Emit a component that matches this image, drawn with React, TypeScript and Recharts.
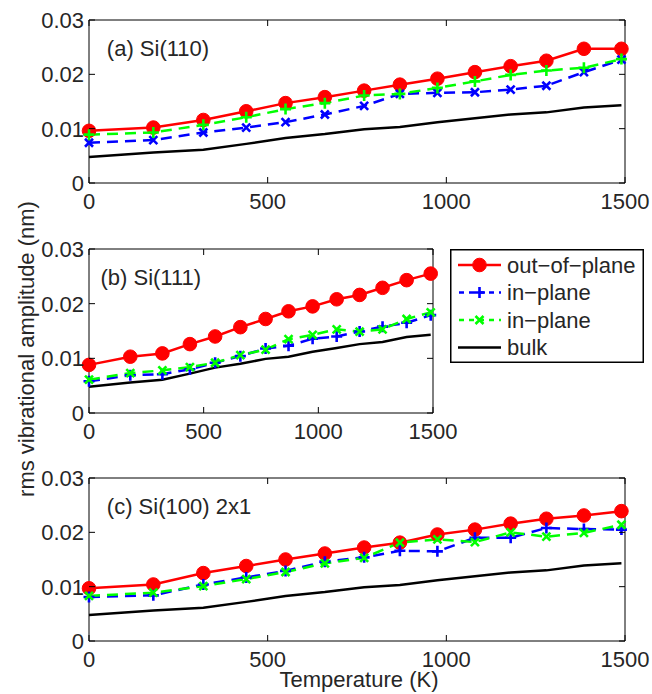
import React from "react";
import {
  Legend,
  Line,
  LineChart,
  ReferenceArea,
  ReferenceDot,
  XAxis,
  YAxis,
} from "recharts";

// temperatures (K) shared by every curve
const temps = [0, 180, 320, 440, 550, 660, 770, 870, 975, 1080, 1180, 1280, 1385, 1490];

// bulk reference, identical in all three panels
const bulk = [0.0048, 0.0056, 0.0061, 0.0072, 0.0083, 0.009, 0.0099, 0.0103, 0.0112, 0.0119, 0.0126, 0.013, 0.0139, 0.0143];

// (a) Si(110)
const outA = [0.0096, 0.0102, 0.0116, 0.0132, 0.0147, 0.0158, 0.017, 0.0181, 0.0192, 0.0204, 0.0215, 0.0225, 0.0247, 0.0247];
const blueA = [0.0074, 0.0079, 0.0093, 0.0102, 0.0112, 0.0126, 0.0142, 0.0164, 0.0166, 0.0167, 0.0172, 0.0179, 0.0204, 0.0227];
const greenA = [0.0089, 0.0093, 0.0107, 0.0121, 0.0136, 0.0147, 0.0161, 0.0164, 0.0175, 0.0187, 0.0199, 0.0207, 0.0212, 0.0228];

// (b) Si(111)
const outB = [0.0088, 0.0103, 0.0109, 0.0126, 0.014, 0.0157, 0.0172, 0.0186, 0.0195, 0.0208, 0.0216, 0.0229, 0.0243, 0.0255];
const blueB = [0.0058, 0.0069, 0.0071, 0.008, 0.0092, 0.0104, 0.0118, 0.0123, 0.0136, 0.014, 0.0149, 0.0158, 0.0165, 0.0179];
const greenB = [0.0061, 0.0073, 0.0078, 0.0084, 0.0092, 0.0106, 0.0116, 0.0135, 0.0143, 0.0153, 0.0149, 0.0153, 0.0172, 0.0184];

// (c) Si(100) 2x1
const outC = [0.0097, 0.0104, 0.0125, 0.0138, 0.015, 0.0161, 0.0172, 0.0181, 0.0196, 0.0205, 0.0216, 0.0225, 0.0231, 0.0239];
const blueC = [0.0081, 0.0084, 0.0104, 0.0117, 0.0129, 0.0146, 0.0154, 0.0166, 0.0165, 0.019, 0.019, 0.0208, 0.0206, 0.0205];
const greenC = [0.0083, 0.0089, 0.0101, 0.0114, 0.0127, 0.0143, 0.0153, 0.0181, 0.0187, 0.0182, 0.02, 0.0192, 0.0199, 0.0214];

const xTicks = [0, 500, 1000, 1500];
const yTicks = [0, 0.01, 0.02, 0.03];
const legendNames = ["out\u2212of\u2212plane", "in\u2212plane", "in\u2212plane", "bulk"];

const FONT = "'Liberation Sans', Arial, Helvetica, sans-serif";
const FS = 22;
const INK = "#262626";
const TICK = 6;
const RED = "#ff0000";
const BLUE = "#0000ff";
const GREEN = "#00ff00";
const DASH = "11 7";

type Mark = "circle" | "plus" | "cross" | "none";

const drawMark = (mark: Mark, cx: number, cy: number, color: string, key?: any) => {
  if (mark === "circle")
    return <circle key={key} cx={cx} cy={cy} r={6.8} fill={color} stroke={color} strokeWidth={1} />;
  if (mark === "plus")
    return (
      <path key={key} d={`M${cx - 5.5},${cy}H${cx + 5.5}M${cx},${cy - 5.5}V${cy + 5.5}`}
        stroke={color} strokeWidth={2.6} fill="none" strokeDasharray="none" />
    );
  if (mark === "cross")
    return (
      <path key={key} d={`M${cx - 4},${cy - 4}L${cx + 4},${cy + 4}M${cx - 4},${cy + 4}L${cx + 4},${cy - 4}`}
        stroke={color} strokeWidth={2.6} fill="none" strokeDasharray="none" />
    );
  return <g key={key} />;
};

const dotFor = (mark: Mark, color: string) => (p: any) => drawMark(mark, p.cx, p.cy, color, p.key ?? `${p.index}`);

const makeXTick = (plotH: number) => (p: any) => {
  const { x, y, payload } = p;
  return (
    <g>
      <line x1={x} y1={y} x2={x} y2={y - TICK} stroke="#000" />
      <line x1={x} y1={y - plotH} x2={x} y2={y - plotH + TICK} stroke="#000" />
      <text x={x} y={y + 26} textAnchor="middle" fontFamily={FONT} fontSize={FS} fill={INK}>
        {payload.value}
      </text>
    </g>
  );
};

const makeYTick = (plotW: number) => (p: any) => {
  const { x, y, payload } = p;
  const v = payload.value;
  return (
    <g>
      <line x1={x} y1={y} x2={x + TICK} y2={y} stroke="#000" />
      <line x1={x + plotW} y1={y} x2={x + plotW - TICK} y2={y} stroke="#000" />
      <text x={x - 5} y={y + 8} textAnchor="end" fontFamily={FONT} fontSize={FS} fill={INK}>
        {v === 0 ? "0" : v.toFixed(2)}
      </text>
    </g>
  );
};

const LegendBox = () => {
  const rows: { color: string; dash?: string; mark: Mark }[] = [
    { color: RED, mark: "circle" },
    { color: BLUE, dash: "5 5", mark: "plus" },
    { color: GREEN, dash: "5 5", mark: "cross" },
    { color: "#000", mark: "none" },
  ];
  return (
    <svg width={194} height={114} style={{ display: "block" }}>
      <rect x={0.75} y={0.75} width={192.5} height={112.5} fill="#fff" stroke="#000" strokeWidth={1.5} />
      {rows.map((r, i) => {
        const cy = 16 + i * 27.5;
        return (
          <g key={i}>
            <line x1={8} x2={51} y1={cy} y2={cy} stroke={r.color} strokeWidth={2.5}
              strokeDasharray={r.dash} strokeDashoffset={r.dash ? -1 : 0} />
            {drawMark(r.mark, 29.5, cy, r.color)}
            <text x={57} y={cy + 7.5} fontFamily={FONT} fontSize={FS} fill={INK}>
              {legendNames[i]}
            </text>
          </g>
        );
      })}
    </svg>
  );
};

type PanelProps = {
  top: number;
  height: number;
  marginTop: number;
  xAxisH: number;
  right: number;
  label: string;
  out: number[];
  blue: number[];
  green: number[];
  blueMark: Mark;
  greenMark: Mark;
  withLegend?: boolean;
  withYTitle?: boolean;
  withXTitle?: boolean;
};

const Panel = (props: PanelProps) => {
  const { top, height, marginTop, xAxisH, right, label, out, blue, green, blueMark, greenMark } = props;
  const W = 652;
  const plotW = W - 89 - right;
  const plotH = height - marginTop - xAxisH;
  const rows = temps.map((t, i) => ({ T: t, out: out[i], blue: blue[i], green: green[i], bulk: bulk[i] }));
  return (
    <div style={{ position: "absolute", left: 0, top }}>
      <LineChart width={W} height={height} data={rows} margin={{ top: marginTop, right, bottom: 0, left: 0 }}>
        <XAxis
          type="number"
          dataKey="T"
          domain={[0, 1500]}
          ticks={xTicks}
          interval={0}
          height={xAxisH}
          axisLine={false}
          tickLine={false}
          tickSize={0}
          tickMargin={0}
          tick={makeXTick(plotH)}
          label={
            props.withXTitle
              ? (lp: any) => {
                  const vb = lp.viewBox;
                  return (
                    <text x={vb.x + vb.width / 2 + 2} y={vb.y + 46} textAnchor="middle"
                      fontFamily={FONT} fontSize={FS} fill={INK}>
                      Temperature (K)
                    </text>
                  );
                }
              : undefined
          }
        />
        <YAxis
          type="number"
          domain={[0, 0.03]}
          ticks={yTicks}
          interval={0}
          width={89}
          axisLine={false}
          tickLine={false}
          tickSize={0}
          tickMargin={0}
          tick={makeYTick(plotW)}
          label={
            props.withYTitle
              ? (lp: any) => {
                  const vb = lp.viewBox;
                  const cy = vb.y + vb.height / 2 + 18;
                  return (
                    <text x={34} y={cy} transform={`rotate(-90, 34, ${cy})`} textAnchor="middle"
                      fontFamily={FONT} fontSize={FS} fill={INK}>
                      rms vibrational amplitude (nm)
                    </text>
                  );
                }
              : undefined
          }
        />
        <ReferenceArea x1={0} x2={1500} y1={0} y2={0.03} fill="none" stroke="#000" strokeWidth={1} />
        <ReferenceDot
          x={50}
          y={0.0234}
          r={0}
          fill="none"
          stroke="none"
          label={(lp: any) => (
            <text x={lp.viewBox.x} y={lp.viewBox.y} fontFamily={FONT} fontSize={FS} fill={INK}>
              {label}
            </text>
          )}
        />
        <Line type="linear" dataKey="out" stroke={RED} strokeWidth={2.5} dot={dotFor("circle", RED)}
          activeDot={false} isAnimationActive={false} />
        <Line type="linear" dataKey="blue" stroke={BLUE} strokeWidth={2.5} strokeDasharray={DASH}
          dot={dotFor(blueMark, BLUE)} activeDot={false} isAnimationActive={false} />
        <Line type="linear" dataKey="green" stroke={GREEN} strokeWidth={2.5} strokeDasharray={DASH}
          dot={dotFor(greenMark, GREEN)} activeDot={false} isAnimationActive={false} />
        <Line type="linear" dataKey="bulk" stroke="#000" strokeWidth={2.5} dot={false}
          activeDot={false} isAnimationActive={false} />
        {props.withLegend && (
          <Legend
            layout="vertical"
            align="center"
            verticalAlign="middle"
            content={() => <LegendBox />}
            wrapperStyle={{ left: 450, top: 249 - top, width: 194, height: 114 }}
          />
        )}
      </LineChart>
    </div>
  );
};

export default function App() {
  return (
    <div style={{ position: "absolute", left: 0, top: 0, width: 652, height: 694, background: "#fff" }}>
      <Panel top={0} height={215} marginTop={20} xAxisH={32} right={27} label="(a) Si(110)"
        out={outA} blue={blueA} green={greenA} blueMark="cross" greenMark="plus" />
      <Panel top={195} height={308} marginTop={54} xAxisH={90} right={219} label="(b) Si(111)"
        out={outB} blue={blueB} green={greenB} blueMark="plus" greenMark="cross" withLegend withYTitle />
      <Panel top={458} height={236} marginTop={20} xAxisH={53} right={27} label="(c) Si(100) 2x1"
        out={outC} blue={blueC} green={greenC} blueMark="plus" greenMark="cross" withXTitle />
    </div>
  );
}
